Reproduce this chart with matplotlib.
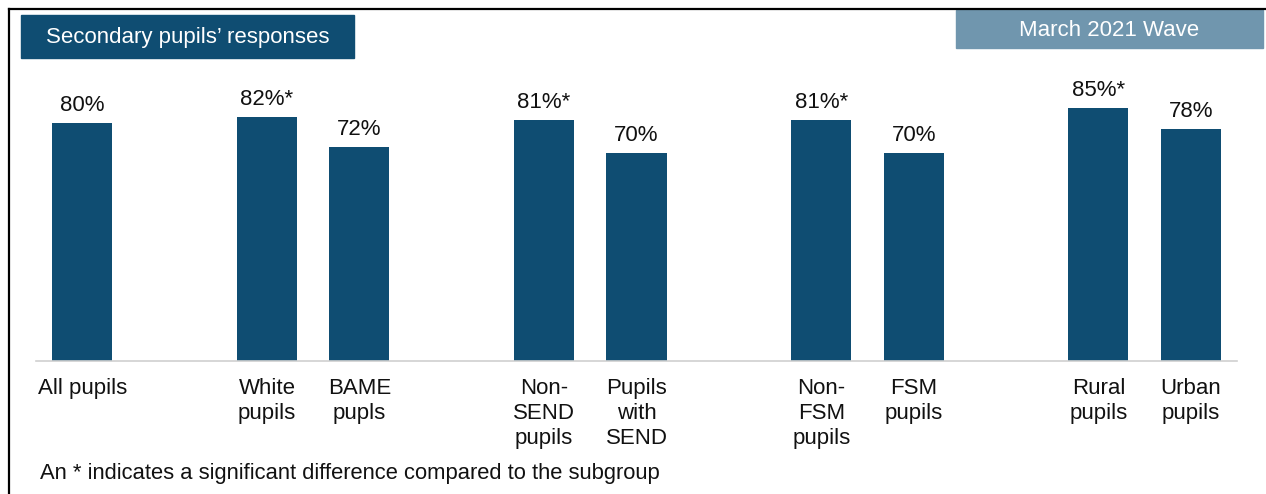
import matplotlib.pyplot as plt
from matplotlib.lines import Line2D
from matplotlib.patches import Rectangle

plt.rcParams['font.family'] = ['Liberation Sans', 'DejaVu Sans']

# slot index of each bar (empty slots leave the gaps between groups)
positions = [0, 2, 3, 5, 6, 8, 9, 11, 12]
categories = ["All pupils", "White\npupils", "BAME\npupls",
              "Non-\nSEND\npupils", "Pupils\nwith\nSEND",
              "Non-\nFSM\npupils", "FSM\npupils",
              "Rural\npupils", "Urban\npupils"]
values = [80, 82, 72, 81, 70, 81, 70, 85, 78]
value_labels = ["80%", "82%*", "72%", "81%*", "70%", "81%*", "70%", "85%*", "78%"]

W, H = 1266, 494
fig = plt.figure(figsize=(W / 100, H / 100), dpi=100)
ax = fig.add_axes([36 / W, 1 - 361 / H, (1237 - 36) / W, (361 - 63.5) / H])

bar_color = '#0f4d72'
ax.bar(positions, values, width=0.65, color=bar_color)
for x, v, lab in zip(positions, values, value_labels):
    ax.annotate(lab, (x, v), xytext=(0, 5), textcoords='offset points',
                ha='center', va='bottom', fontsize=16, color='#111111')

ax.set_xlim(-0.5, 12.5)
ax.set_ylim(0, 100)
ax.set_xticks(positions)
ax.set_xticklabels(categories, fontsize=16, color='#111111', linespacing=1.25)
ax.tick_params(axis='x', length=0, pad=12)
ax.set_yticks([])
for side in ['top', 'right', 'left']:
    ax.spines[side].set_visible(False)
ax.spines['bottom'].set_color('#d0d0d0')
ax.spines['bottom'].set_linewidth(1.2)

# outer frame: left and top edges only
fig.add_artist(Line2D([9 / W, 9 / W], [0, 1 - 9 / H], color='black', lw=1.6))
fig.add_artist(Line2D([9 / W, 1], [1 - 9 / H, 1 - 9 / H], color='black', lw=1.6))

# header boxes
fig.add_artist(Rectangle((21 / W, 1 - 58 / H), (354 - 21) / W, (58 - 15) / H,
                         color='#0f4d72', transform=fig.transFigure))
fig.text(188 / W, 1 - 37 / H, "Secondary pupils\u2019 responses", color='white',
         fontsize=16, ha='center', va='center')
fig.add_artist(Rectangle((956 / W, 1 - 48 / H), (1263 - 956) / W, (48 - 10) / H,
                         color='#7096ae', transform=fig.transFigure))
fig.text(1109 / W, 1 - 31 / H, "March 2021 Wave", color='white',
         fontsize=16, ha='center', va='center')

fig.text(40 / W, 1 - 473 / H, "An * indicates a significant difference compared to the subgroup",
         fontsize=15.8, ha='left', va='center', color='#111111')

fig.savefig('out.png', dpi=100)
